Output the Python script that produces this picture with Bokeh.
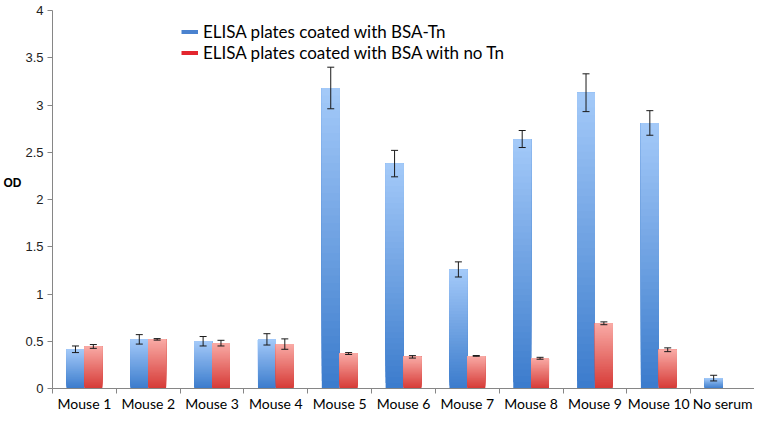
import numpy as np
from bokeh.plotting import figure
from bokeh.models import (ColumnDataSource, Range1d, FixedTicker, NumeralTickFormatter,
                          CustomJSTickFormatter, Whisker, TeeHead, Legend, LegendItem)
from bokeh.embed import file_html
from bokeh.resources import INLINE

# ---------------- data ----------------
categories = ["Mouse 1", "Mouse 2", "Mouse 3", "Mouse 4", "Mouse 5", "Mouse 6",
              "Mouse 7", "Mouse 8", "Mouse 9", "Mouse 10", "No serum"]
bsa_tn = [0.415, 0.52, 0.50, 0.52, 3.18, 2.38, 1.26, 2.64, 3.13, 2.81, 0.11]
bsa_tn_err = [0.035, 0.05, 0.05, 0.06, 0.22, 0.14, 0.08, 0.09, 0.20, 0.13, 0.03]
bsa_no_tn = [0.445, 0.52, 0.48, 0.47, 0.37, 0.335, 0.345, 0.32, 0.69, 0.41, None]
bsa_no_tn_err = [0.02, 0.008, 0.03, 0.055, 0.01, 0.013, 0.004, 0.01, 0.015, 0.02, None]
y_ticks = [0, 0.5, 1, 1.5, 2, 2.5, 3, 3.5, 4]
series_names = ["ELISA plates coated with BSA-Tn", "ELISA plates coated with BSA with no Tn"]

# ---------------- styles ----------------
BAR_W = 0.28
N_SLICES = 40
blue_bottom, blue_top = "#3b7bcc", "#a4caf9"
red_bottom, red_top = "#d63a36", "#f9aba6"


def hex2rgb(h):
    h = h.lstrip("#")
    return np.array([int(h[i:i + 2], 16) for i in (0, 2, 4)], dtype=float)


def mix(c0, c1, t):
    c = hex2rgb(c0) * (1 - t) + hex2rgb(c1) * t
    return "#%02x%02x%02x" % tuple(int(round(v)) for v in c)


def gradient_source(values, offset, c_bottom, c_top):
    xs, bottoms, tops, colors = [], [], [], []
    for i, v in enumerate(values):
        if v is None:
            continue
        for k in range(N_SLICES):
            xs.append(i + 0.5 + offset)
            bottoms.append(v * k / N_SLICES)
            tops.append(v)
            colors.append(mix(c_bottom, c_top, (k + 0.5) / N_SLICES))
    return ColumnDataSource(dict(x=xs, bottom=bottoms, top=tops, color=colors))


def err_source(values, errs, offset):
    xs, up, lo = [], [], []
    for i, (v, e) in enumerate(zip(values, errs)):
        if v is None:
            continue
        xs.append(i + 0.5 + offset)
        up.append(v + e)
        lo.append(v - e)
    return ColumnDataSource(dict(x=xs, upper=up, lower=lo))


p = figure(width=754, height=414, output_backend="svg", toolbar_location=None,
           x_range=Range1d(0, len(categories)), y_range=Range1d(0, 4),
           min_border_left=51, min_border_right=0, min_border_top=10, min_border_bottom=19)
p.outline_line_color = None
p.xgrid.visible = False
p.ygrid.visible = False
p.background_fill_color = "white"

# bars with vertical gradient
p.vbar(x="x", width=BAR_W, bottom="bottom", top="top", fill_color="color", line_color=None,
       source=gradient_source(bsa_tn, -BAR_W / 2, blue_bottom, blue_top))
p.vbar(x="x", width=BAR_W, bottom="bottom", top="top", fill_color="color", line_color=None,
       source=gradient_source(bsa_no_tn, BAR_W / 2, red_bottom, red_top))

# error bars
for vals, errs, off in ((bsa_tn, bsa_tn_err, -BAR_W / 2), (bsa_no_tn, bsa_no_tn_err, BAR_W / 2)):
    w = Whisker(source=err_source(vals, errs, off), base="x", upper="upper", lower="lower",
                dimension="height", line_color="#1a1a1a", line_width=1,
                upper_head=TeeHead(size=7, line_color="#1a1a1a", line_width=1),
                lower_head=TeeHead(size=7, line_color="#1a1a1a", line_width=1))
    w.level = "annotation"
    p.add_layout(w)

# axes
xa = p.xaxis[0]
xa.ticker = FixedTicker(ticks=[i + 0.5 for i in range(len(categories))],
                        minor_ticks=list(range(len(categories) + 1)))
xa.formatter = CustomJSTickFormatter(args=dict(labels=categories),
                                     code="return labels[Math.round(tick - 0.5)] || '';")
xa.major_tick_out = 0
xa.major_tick_in = 0
xa.minor_tick_out = 5
xa.minor_tick_in = 0
xa.minor_tick_line_color = "#868686"
xa.axis_line_color = "#868686"
xa.major_label_text_font = "Lato"
xa.major_label_text_font_size = "14px"
xa.major_label_text_color = "black"
xa.major_label_standoff = 1

ya = p.yaxis[0]
ya.ticker = FixedTicker(ticks=y_ticks, minor_ticks=[])
ya.formatter = NumeralTickFormatter(format="0.[0]")
ya.major_tick_out = 5
ya.major_tick_in = 0
ya.major_tick_line_color = "#868686"
ya.axis_line_color = "#868686"
ya.major_label_text_font = "Liberation Sans"
ya.major_label_text_font_size = "13px"
ya.major_label_text_color = "#222222"
ya.major_label_standoff = 4
ya.axis_label = "OD\n\n"
ya.axis_label_orientation = "horizontal"
ya.axis_label_standoff = 1
ya.axis_label_text_font = "Liberation Sans"
ya.axis_label_text_font_size = "12px"
ya.axis_label_text_font_style = "bold"
ya.axis_label_text_color = "black"
ya.axis_label_text_baseline = "bottom"

# legend
r1 = p.line(x=[0.0], y=[np.nan], line_color="#4a82cf", line_width=4)
r2 = p.line(x=[0.0], y=[np.nan], line_color="#e3262e", line_width=4)
legend = Legend(items=[LegendItem(label=series_names[0], renderers=[r1]),
                       LegendItem(label=series_names[1], renderers=[r2])],
                location=(129, 325), padding=0, margin=0, spacing=0,
                glyph_width=17, glyph_height=19, label_height=19, label_standoff=5,
                label_text_font="Lato", label_text_font_size="17px", label_text_color="black",
                background_fill_alpha=0, border_line_alpha=0)
p.add_layout(legend)

open("out.html", "w").write(file_html(p, INLINE))
